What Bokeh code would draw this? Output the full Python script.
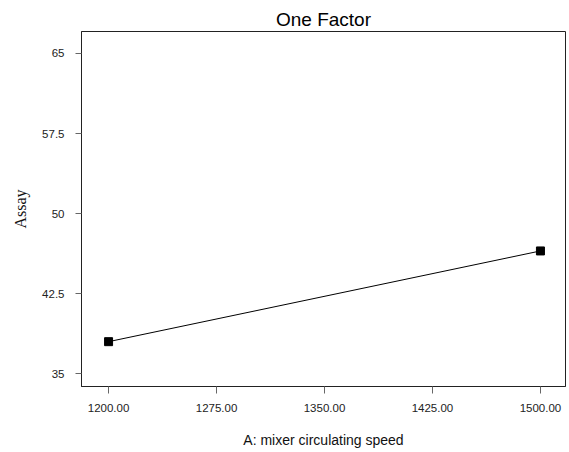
from bokeh.plotting import figure
from bokeh.models import FixedTicker, Range1d
from bokeh.embed import file_html
from bokeh.resources import INLINE

# Data
speed = [1200.0, 1500.0]
assay = [38.0, 46.5]

x_ticks = [1200, 1275, 1350, 1425, 1500]
x_tick_labels = ["1200.00", "1275.00", "1350.00", "1425.00", "1500.00"]
y_ticks = [35, 42.5, 50, 57.5, 65]
y_tick_labels = ["35", "42.5", "50", "57.5", "65"]

p = figure(width=567, height=450, output_backend="svg", toolbar_location=None,
           x_range=Range1d(1181.2, 1517.4), y_range=Range1d(33.8, 67.06),
           title="One Factor",
           min_border_left=81, min_border_right=2, min_border_top=31, min_border_bottom=63)

p.title.align = "center"
p.title.text_font = "Liberation Sans"
p.title.text_font_size = "19px"
p.title.text_font_style = "normal"
p.title.text_color = "#000000"
p.title.standoff = 3
p.title.offset = 0

p.xgrid.visible = False
p.ygrid.visible = False
p.outline_line_color = "#222222"
p.outline_line_width = 1
p.background_fill_color = "white"
p.border_fill_color = "white"

p.line(speed, assay, line_color="black", line_width=1)
p.scatter(speed, assay, marker="square", size=8, fill_color="black", line_color="black")

xa = p.xaxis[0]
xa.ticker = FixedTicker(ticks=x_ticks)
xa.major_label_overrides = {t: l for t, l in zip(x_ticks, x_tick_labels)}
xa.axis_label = "A: mixer circulating speed"
xa.axis_label_text_font = "Liberation Sans"
xa.axis_label_text_font_size = "14px"
xa.axis_label_text_font_style = "normal"
xa.axis_label_text_color = "#111111"
xa.axis_label_standoff = 17
xa.major_label_text_font = "Liberation Sans"
xa.major_label_text_font_size = "11.5px"
xa.major_label_text_color = "#222222"
xa.major_label_standoff = 10
xa.major_tick_out = 7
xa.major_tick_in = 0
xa.minor_tick_out = 0
xa.minor_tick_in = 0
xa.major_tick_line_color = "#666666"
xa.axis_line_color = "#222222"

ya = p.yaxis[0]
ya.ticker = FixedTicker(ticks=y_ticks)
ya.major_label_overrides = {t: l for t, l in zip(y_ticks, y_tick_labels)}
ya.axis_label = "Assay"
ya.axis_label_text_font = "Liberation Serif"
ya.axis_label_text_font_size = "16px"
ya.axis_label_text_font_style = "normal"
ya.axis_label_text_color = "#111111"
ya.axis_label_standoff = 10
ya.major_label_text_font = "Liberation Sans"
ya.major_label_text_font_size = "11.5px"
ya.major_label_text_color = "#222222"
ya.major_label_standoff = 11
ya.major_label_orientation = "horizontal"
ya.major_tick_out = 6
ya.major_tick_in = 0
ya.minor_tick_out = 0
ya.minor_tick_in = 0
ya.major_tick_line_color = "#666666"
ya.axis_line_color = "#222222"

open("out.html", "w").write(file_html(p, INLINE))
